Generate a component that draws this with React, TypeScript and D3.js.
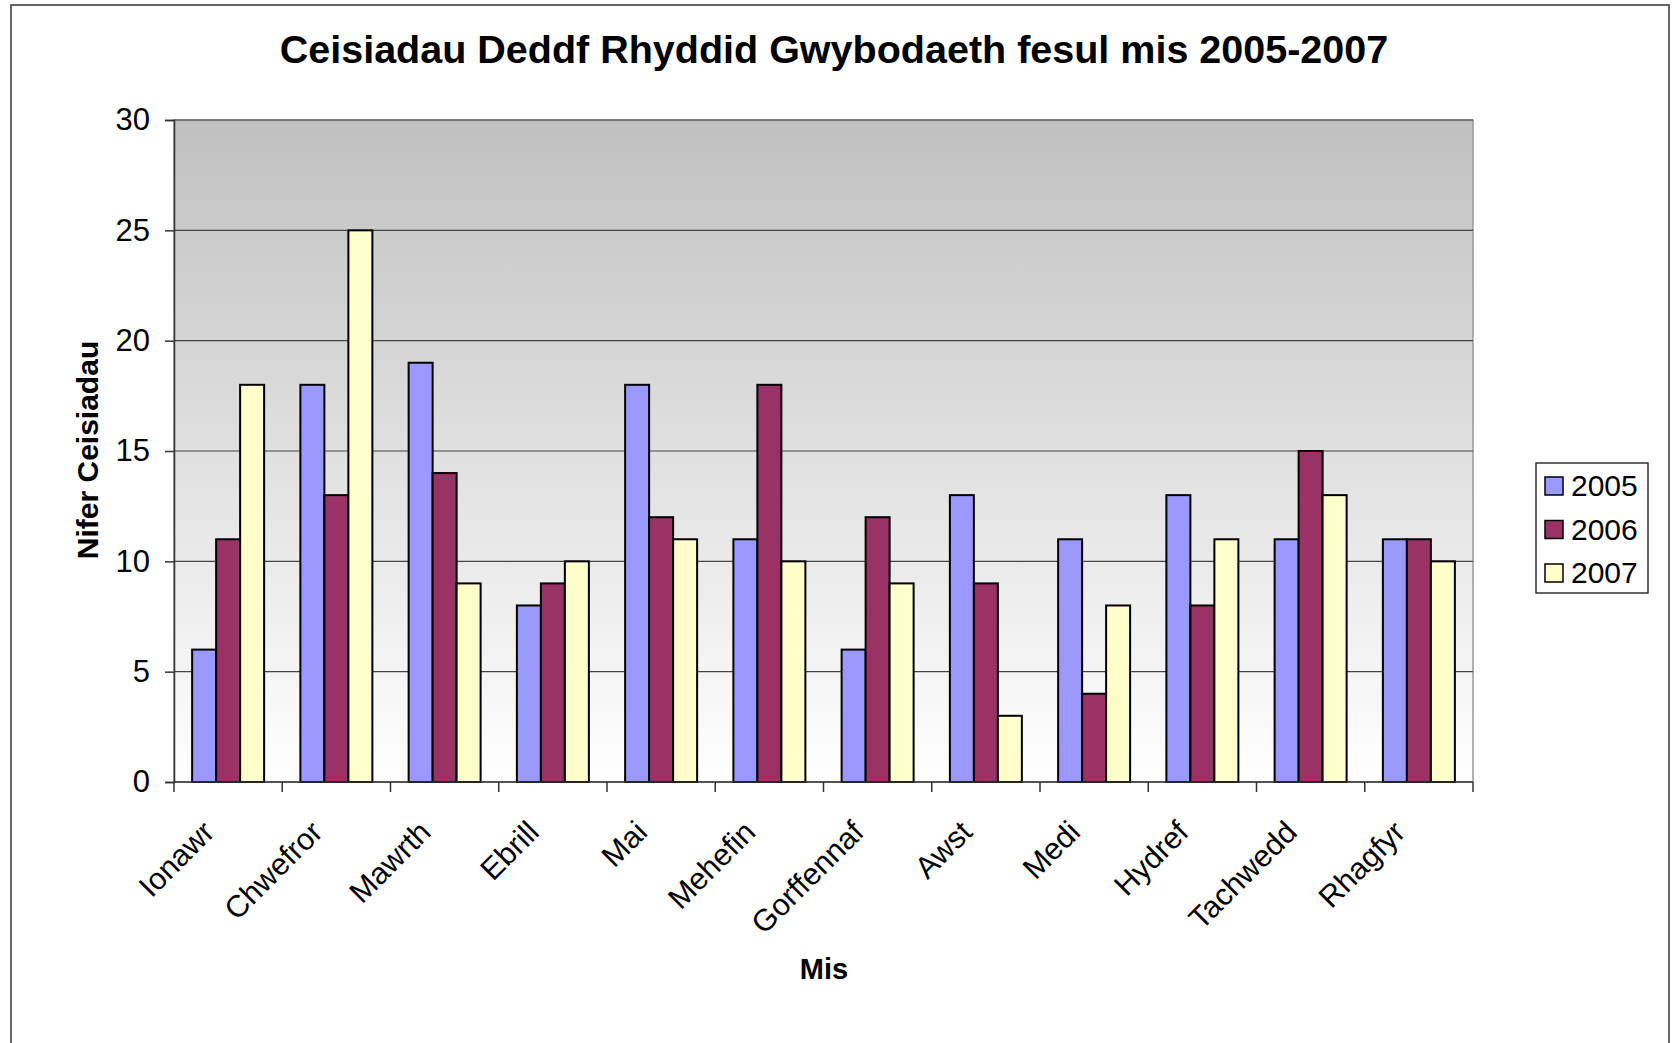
import React, { useRef, useEffect } from 'react'
import * as d3 from 'd3'

const months = ['Ionawr', 'Chwefror', 'Mawrth', 'Ebrill', 'Mai', 'Mehefin', 'Gorffennaf', 'Awst', 'Medi', 'Hydref', 'Tachwedd', 'Rhagfyr']
const years = ['2005', '2006', '2007']
const values2005 = [6, 18, 19, 8, 18, 11, 6, 13, 11, 13, 11, 11]
const values2006 = [11, 13, 14, 9, 12, 18, 12, 9, 4, 8, 15, 11]
const values2007 = [18, 25, 9, 10, 11, 10, 9, 3, 8, 11, 13, 10]
const yTicks = [0, 5, 10, 15, 20, 25, 30]
const colors = ['#9999FF', '#993366', '#FFFFCC']

const FONT = '"Liberation Sans", Arial, sans-serif'

const App = () => {
	const svgRef = useRef<SVGSVGElement>(null)

	useEffect(() => {
		const svg = d3.select(svgRef.current)
		svg.selectAll('*').remove()

		const width = 1674
		const height = 1043
		const plot = { left: 174, top: 120, right: 1473, bottom: 782 }
		const series = [values2005, values2006, values2007]

		svg.attr('width', width).attr('height', height)

		// tło i ramka
		svg.append('rect').attr('width', width).attr('height', height).attr('fill', '#fff')
		svg
			.append('rect')
			.attr('x', 11)
			.attr('y', 5)
			.attr('width', 1658)
			.attr('height', 1100)
			.attr('fill', 'none')
			.attr('stroke', '#333')
			.attr('stroke-width', 1.5)

		const defs = svg.append('defs')
		const grad = defs.append('linearGradient').attr('id', 'bg').attr('x1', 0).attr('y1', 0).attr('x2', 0).attr('y2', 1)
		grad.append('stop').attr('offset', '0%').attr('stop-color', '#c0c0c0')
		grad.append('stop').attr('offset', '100%').attr('stop-color', '#ffffff')

		svg
			.append('rect')
			.attr('x', plot.left)
			.attr('y', plot.top)
			.attr('width', plot.right - plot.left)
			.attr('height', plot.bottom - plot.top)
			.attr('fill', 'url(#bg)')
			.attr('stroke', '#999')
			.attr('stroke-width', 1.5)

		const x = d3.scaleBand<string>().domain(months).range([plot.left, plot.right]).paddingInner(0.335).paddingOuter(0.1675)
		const xInner = d3.scaleBand<string>().domain(years).range([0, x.bandwidth()])
		const y = d3.scaleLinear().domain([0, 30]).range([plot.bottom, plot.top])

		// linie siatki
		svg
			.append('g')
			.selectAll('line')
			.data(yTicks.filter(t => t > 0))
			.enter()
			.append('line')
			.attr('x1', plot.left)
			.attr('x2', plot.right)
			.attr('y1', d => y(d))
			.attr('y2', d => y(d))
			.attr('stroke', '#444')
			.attr('stroke-width', 1.2)

		// słupki
		const groups = svg
			.append('g')
			.selectAll('g')
			.data(months)
			.enter()
			.append('g')
			.attr('transform', d => `translate(${x(d)},0)`)

		groups
			.selectAll('rect')
			.data((m, i) => years.map((yr, s) => ({ yr, s, v: series[s][i] })))
			.enter()
			.append('rect')
			.attr('x', d => xInner(d.yr)!)
			.attr('y', d => y(d.v))
			.attr('width', xInner.bandwidth())
			.attr('height', d => plot.bottom - y(d.v))
			.attr('fill', d => colors[d.s])
			.attr('stroke', '#000')
			.attr('stroke-width', 2)

		// oś Y
		const yAxis = d3.axisLeft(y).tickValues(yTicks).tickSize(9).tickPadding(15)
		const gy = svg.append('g').attr('transform', `translate(${plot.left},0)`).call(yAxis)
		gy.select('.domain').attr('stroke', '#333').attr('stroke-width', 1.5)
		gy.selectAll('.tick line').attr('stroke', '#333').attr('stroke-width', 1.5)
		gy.selectAll('.tick text').attr('font-size', 31).attr('font-family', FONT).attr('fill', '#000')

		// oś X
		const step = x.step()
		const boundaries = d3.range(months.length + 1).map(i => plot.left + i * step)
		svg
			.append('line')
			.attr('x1', plot.left)
			.attr('x2', plot.right)
			.attr('y1', plot.bottom)
			.attr('y2', plot.bottom)
			.attr('stroke', '#333')
			.attr('stroke-width', 1.5)
		svg
			.append('g')
			.selectAll('line')
			.data(boundaries)
			.enter()
			.append('line')
			.attr('x1', d => d)
			.attr('x2', d => d)
			.attr('y1', plot.bottom)
			.attr('y2', plot.bottom + 10)
			.attr('stroke', '#333')
			.attr('stroke-width', 1.5)

		svg
			.append('g')
			.selectAll('text')
			.data(months)
			.enter()
			.append('text')
			.attr('transform', d => `translate(${x(d)! + x.bandwidth() / 2 - 12},834) rotate(-45)`)
			.attr('text-anchor', 'end')
			.attr('font-size', 30.5)
			.attr('font-family', FONT)
			.text(d => d)

		// tytuły
		svg
			.append('text')
			.attr('x', 834)
			.attr('y', 63)
			.attr('text-anchor', 'middle')
			.attr('font-size', 39.5)
			.attr('font-weight', 'bold')
			.attr('font-family', FONT)
			.text('Ceisiadau Deddf Rhyddid Gwybodaeth fesul mis 2005-2007')

		svg
			.append('text')
			.attr('x', 824)
			.attr('y', 979)
			.attr('text-anchor', 'middle')
			.attr('font-size', 29)
			.attr('font-weight', 'bold')
			.attr('font-family', FONT)
			.text('Mis')

		svg
			.append('text')
			.attr('transform', 'translate(98,450) rotate(-90)')
			.attr('text-anchor', 'middle')
			.attr('font-size', 30)
			.attr('font-weight', 'bold')
			.attr('font-family', FONT)
			.text('Nifer Ceisiadau')

		// legenda
		const legend = svg.append('g')
		legend
			.append('rect')
			.attr('x', 1536)
			.attr('y', 463)
			.attr('width', 112)
			.attr('height', 130)
			.attr('fill', '#fff')
			.attr('stroke', '#333')
			.attr('stroke-width', 1.5)
		const rows = legend
			.selectAll('g')
			.data(years)
			.enter()
			.append('g')
			.attr('transform', (d, i) => `translate(0,${486 + i * 43.5})`)
		rows
			.append('rect')
			.attr('x', 1545)
			.attr('y', -9)
			.attr('width', 18)
			.attr('height', 18)
			.attr('fill', (d, i) => colors[i])
			.attr('stroke', '#000')
			.attr('stroke-width', 1.5)
		rows
			.append('text')
			.attr('x', 1571)
			.attr('y', 10)
			.attr('font-size', 30)
			.attr('font-family', FONT)
			.text(d => d)
	}, [])

	return <svg ref={svgRef} style={{ position: 'absolute', left: 0, top: 0 }}></svg>
}

export default App
